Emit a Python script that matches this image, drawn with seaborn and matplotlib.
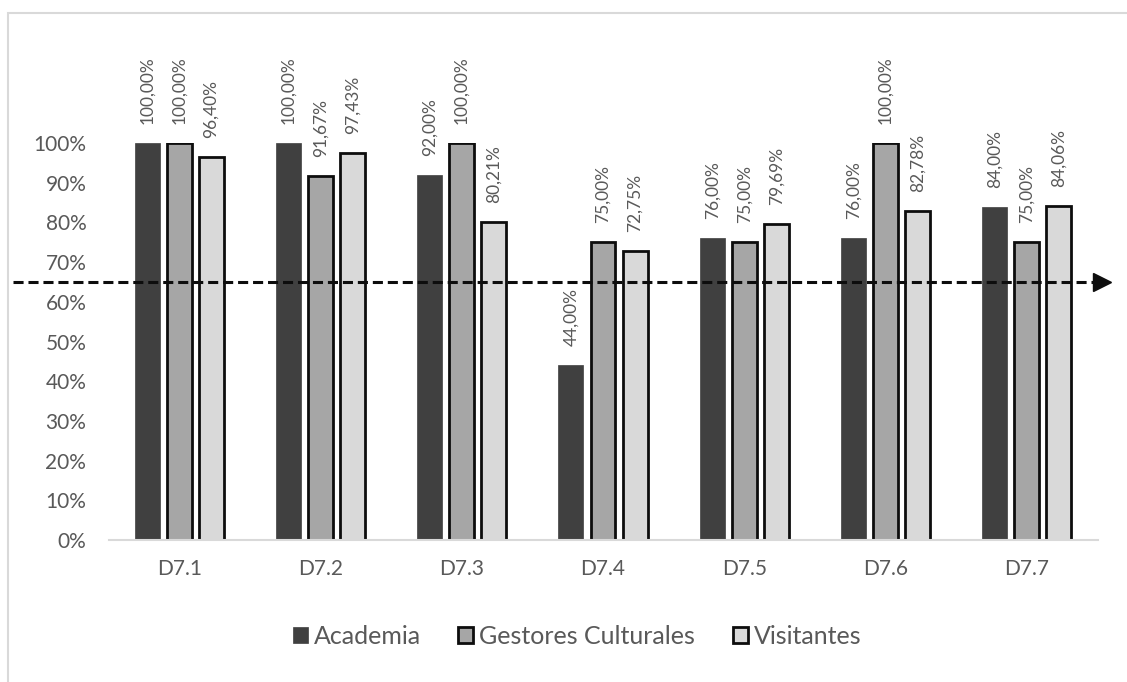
import matplotlib
matplotlib.use("Agg")
import matplotlib.pyplot as plt
from matplotlib.patches import Rectangle, Patch
from matplotlib.transforms import blended_transform_factory
import pandas as pd
import seaborn as sns

# ---- data ----
categories = ["D7.1", "D7.2", "D7.3", "D7.4", "D7.5", "D7.6", "D7.7"]
academia = [1.00, 1.00, 0.92, 0.44, 0.76, 0.76, 0.84]
gestores = [1.00, 0.9167, 1.00, 0.75, 0.75, 1.00, 0.75]
visitantes = [0.964, 0.9743, 0.8021, 0.7275, 0.7969, 0.8278, 0.8406]
series_names = ["Academia", "Gestores Culturales", "Visitantes"]
y_ticks = [0, 0.1, 0.2, 0.3, 0.4, 0.5, 0.6, 0.7, 0.8, 0.9, 1.0]
threshold = 0.65

colors = ["#404040", "#A6A6A6", "#D9D9D9"]
edges = ["#404040", "#0D0D0D", "#0D0D0D"]
edge_widths = [0.5, 2.0, 2.0]
text_color = "#595959"

df = pd.DataFrame({
    "cat": categories * 3,
    "serie": [series_names[0]] * 7 + [series_names[1]] * 7 + [series_names[2]] * 7,
    "valor": academia + gestores + visitantes,
})

sns.set_style("white")
plt.rcParams["font.family"] = ["Lato", "DejaVu Sans"]

fig = plt.figure(figsize=(11.27, 6.82), dpi=100)
ax = fig.add_axes([108.5 / 1127, 1 - 540 / 682, 989 / 1127, 397 / 682])

sns.barplot(data=df, x="cat", y="valor", hue="serie", hue_order=series_names,
            order=categories, palette=colors, width=0.68, gap=0.22,
            saturation=1, legend=False, ax=ax, errorbar=None)

for i, cont in enumerate(ax.containers):
    for bar in cont:
        bar.set_edgecolor(edges[i])
        bar.set_linewidth(edge_widths[i])
        bar.set_zorder(2)
    vals = [academia, gestores, visitantes][i]
    for bar, v in zip(cont, vals):
        ax.annotate(f"{v * 100:.2f}%".replace(".", ","),
                    xy=(bar.get_x() + bar.get_width() / 2, v),
                    xytext=(0, 19), textcoords="offset pixels",
                    rotation=90, ha="center", va="bottom",
                    fontsize=12.5, color=text_color)

ax.set_ylim(0, 1.0)
ax.set_xlim(-0.5, len(categories) - 0.5)
ax.set_yticks(y_ticks)
ax.set_yticklabels([f"{int(round(t * 100))}%" for t in y_ticks])
ax.tick_params(axis="both", length=0, labelsize=15, colors=text_color)
ax.tick_params(axis="x", pad=14)
ax.tick_params(axis="y", pad=16)
ax.set_xlabel("")
ax.set_ylabel("")
for side in ["top", "right", "left"]:
    ax.spines[side].set_visible(False)
ax.spines["bottom"].set_color("#D9D9D9")
ax.spines["bottom"].set_linewidth(1.5)

# reference threshold line with arrow head
trans = blended_transform_factory(ax.transAxes, ax.transData)
x_start = (13 - 108.5) / 989
x_end = (1102 - 108.5) / 989
ax.plot([x_start, x_end], [threshold, threshold], transform=trans,
        color="#0D0D0D", linewidth=2.2, linestyle=(0, (3.3, 1.6)),
        clip_on=False, zorder=5)
ax.plot([x_end], [threshold], transform=trans, marker=">", markersize=13,
        color="#0D0D0D", clip_on=False, zorder=5, linestyle="none")

# legend
handles = [Patch(facecolor=colors[i], edgecolor=edges[i], linewidth=edge_widths[i])
           for i in range(3)]
fig.legend(handles, series_names, loc="center", bbox_to_anchor=(577 / 1127, 1 - 636 / 682),
           ncol=3, frameon=False, fontsize=18, handlelength=0.6, handleheight=0.6,
           handletextpad=0.24, columnspacing=1.5, labelcolor=text_color)

# outer chart border
fig.patches.append(Rectangle((8 / 1127, -0.05), 1.1, 1 - 13 / 682 + 0.05,
                             transform=fig.transFigure, fill=False,
                             edgecolor="#D9D9D9", linewidth=1.5))

fig.savefig("out.png", dpi=100)
